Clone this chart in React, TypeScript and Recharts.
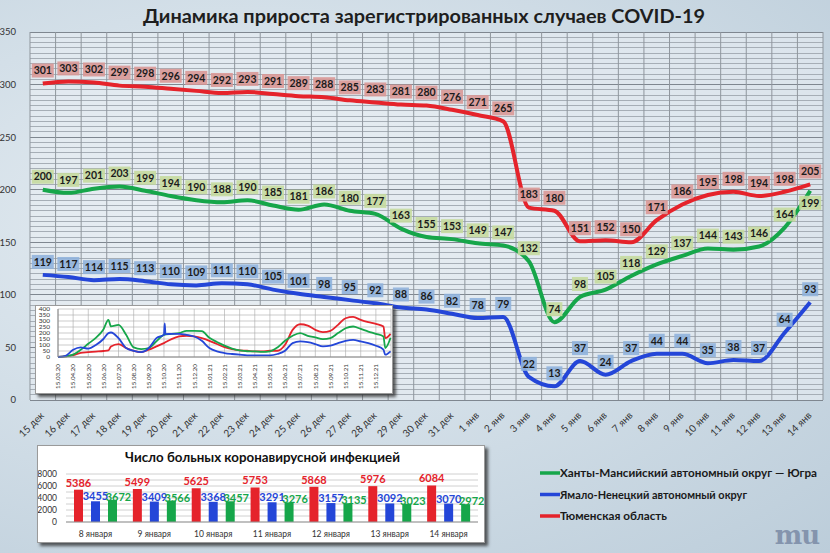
import React from "react";
import { LineChart, Line, XAxis, YAxis, CartesianGrid, ReferenceLine, BarChart, Bar, LabelList } from "recharts";

const categories = [
  "15 дек", "16 дек", "17 дек", "18 дек", "19 дек", "20 дек", "21 дек", "22 дек", "23 дек", "24 дек",
  "25 дек", "26 дек", "27 дек", "28 дек", "29 дек", "30 дек", "31 дек", "1 янв", "2 янв", "3 янв",
  "4 янв", "5 янв", "6 янв", "7 янв", "8 янв", "9 янв", "10 янв", "11 янв", "12 янв", "13 янв", "14 янв",
];
const tyumen = [301, 303, 302, 299, 298, 296, 294, 292, 293, 291, 289, 288, 285, 283, 281, 280, 276, 271, 265, 183, 180, 151, 152, 150, 171, 186, 195, 198, 194, 198, 205];
const khmao = [200, 197, 201, 203, 199, 194, 190, 188, 190, 185, 181, 186, 180, 177, 163, 155, 153, 149, 147, 132, 74, 98, 105, 118, 129, 137, 144, 143, 146, 164, 199];
const yanao = [119, 117, 114, 115, 113, 110, 109, 111, 110, 105, 101, 98, 95, 92, 88, 86, 82, 78, 79, 22, 13, 37, 24, 37, 44, 44, 35, 38, 37, 64, 93];
const yTicks = [0, 50, 100, 150, 200, 250, 300, 350];
const minorStep = 5;

// inset: long-term history (month offsets from 15.03.20)
const insetLabels = [
  "15.03.20", "15.04.20", "15.05.20", "15.06.20", "15.07.20", "15.08.20", "15.09.20", "15.10.20", "15.11.20", "15.12.20", "15.01.21",
  "15.02.21", "15.03.21", "15.04.21", "15.05.21", "15.06.21", "15.07.21", "15.08.21", "15.09.21", "15.10.21", "15.11.21", "15.12.21",
];
const insetT = [0, 0.5, 1, 1.5, 2, 2.5, 3, 3.33, 3.5, 4, 4.5, 5, 5.5, 6, 6.5, 7, 7.05, 7.1, 7.5, 8, 8.5, 9, 9.5, 10, 10.5, 11, 11.5, 12, 12.5, 13, 13.5, 14, 14.5, 15, 15.5, 16, 16.5, 17, 17.5, 18, 18.5, 19, 19.5, 20, 20.5, 21, 21.5, 21.62, 21.97];
const insetRed = [0, 5, 15, 35, 40, 45, 50, 55, 88, 108, 75, 52, 41, 61, 88, 116, null, null, 149, 171, 177, 171, 157, 135, 108, 83, 66, 55, 52, 47, 47, 52, 52, 102, 226, 273, 262, 226, 207, 218, 268, 323, 334, 309, 290, 276, 254, 157, 193];
const insetGreen = [0, 5, 20, 60, 110, 160, 230, 309, 255, 268, 185, 80, 66, 75, 130, 185, null, null, 193, 199, 218, 218, 215, 160, 125, 95, 70, 55, 48, 47, 42, 47, 80, 135, 177, 199, 177, 163, 149, 157, 199, 240, 254, 234, 212, 193, 171, 75, 160];
const insetBlue = [0, 10, 60, 80, 70, 100, 150, 199, 204, 157, 75, 52, 41, 75, 157, 185, 280, 190, 193, 193, 185, 171, 135, 75, 47, 33, 25, 19, 14, 14, 14, 14, 25, 52, 116, 130, 124, 108, 88, 94, 116, 135, 143, 130, 116, 94, 61, 19, 47];
const insetYTicks = [0, 50, 100, 150, 200, 250, 300, 350, 400];

// bottom bar panel
const barDays = ["8 января", "9 января", "10 января", "11 января", "12 января", "13 января", "14 января"];
const barRed = [5386, 5499, 5625, 5753, 5868, 5976, 6084];
const barBlue = [3455, 3409, 3368, 3291, 3157, 3092, 3070];
const barGreen = [3672, 3566, 3457, 3276, 3135, 3023, 2972];
const barTicks = [0, 1000, 2000, 3000, 4000, 5000, 6000, 7000, 8000];

const RED = "#e5232b";
const GREEN = "#16a64a";
const BLUE = "#2446d8";
const FONT = "Lato, 'Open Sans', sans-serif";

const mainData = categories.map((c, i) => ({ i, name: c, red: tyumen[i], green: khmao[i], blue: yanao[i] }));
const insetData = insetT.map((t, i) => ({ t, red: insetRed[i], green: insetGreen[i], blue: insetBlue[i] }));
const barData = barDays.map((d, i) => ({ d, red: barRed[i], blue: barBlue[i], green: barGreen[i] }));

const minorLines: number[] = [];
for (let v = 0; v <= 350; v += minorStep) if (v % 50 !== 0) minorLines.push(v);
const boundaries = Array.from({ length: categories.length + 1 }, (_, k) => k - 0.5);

const boxLabel = (fill: string, below: number[] = []) => (props: any) => {
  const x = props.x ?? props.viewBox?.x;
  const y = props.y ?? props.viewBox?.y;
  const { value, index } = props;
  if (x == null || y == null) return null;
  const isBelow = below.includes(index);
  const cy = isBelow ? y + 12 : y - 13;
  const w = String(value).length * 6 + 4;
  return (
    <g>
      <rect x={x - w / 2} y={cy - 7} width={w} height={14} fill={fill} fillOpacity={0.9} />
      <text x={x} y={cy} dy="0.36em" textAnchor="middle" fontSize={10.5} fontWeight={700} fill="#1b1b1b" fontFamily={FONT}>
        {value}
      </text>
    </g>
  );
};

const MainTick = (props: any) => {
  const { x, y, payload } = props;
  const tx = x + 2;
  const ty = y + 8;
  return (
    <text x={tx} y={ty} textAnchor="end" transform={`rotate(-45 ${tx} ${ty})`} fontSize={10} fill="#333" fontFamily={FONT}>
      {categories[payload.value]}
    </text>
  );
};

const InsetTick = (props: any) => {
  const { x, y, payload } = props;
  const tx = x + 2.3;
  const ty = y;
  return (
    <text x={tx} y={ty} textAnchor="end" transform={`rotate(-90 ${tx} ${ty})`} fontSize={6.3} fill="#333" fontFamily={FONT}>
      {insetLabels[payload.value]}
    </text>
  );
};

const barLabel = (color: string, dx: number, dy: number) => (props: any) => {
  const { x, y, width, value } = props;
  if (x == null || y == null) return null;
  return (
    <text x={x + width / 2 + dx} y={y + dy} textAnchor="middle" dy="0.36em" fontSize={11} fontWeight={700} fill={color} fontFamily={FONT}>
      {value}
    </text>
  );
};

function Inset() {
  return (
    <div style={{ position: "absolute", left: 35, top: 305, width: 358, height: 89, background: "#fff", border: "1px solid #9a9a9a", boxShadow: "3px 3px 3px rgba(40,40,40,0.75)", boxSizing: "border-box" }}>
      <LineChart width={356} height={87} data={insetData} margin={{ top: 3, right: 1, left: 0, bottom: 0 }}>
        <CartesianGrid stroke="#a8a8a8" strokeWidth={0.6} />
        <XAxis type="number" dataKey="t" domain={[0, 22]} ticks={insetLabels.map((_, i) => i)} tick={<InsetTick />} tickLine={false} axisLine={{ stroke: "#888" }} height={36} interval={0} tickMargin={1} />
        <YAxis domain={[0, 400]} ticks={insetYTicks} width={22} tickLine={false} axisLine={{ stroke: "#888" }} tick={{ fontSize: 6.5, fill: "#333", fontFamily: FONT }} tickMargin={2} interval={0} />
        <Line type="monotone" dataKey="red" stroke={RED} strokeWidth={1.8} dot={false} isAnimationActive={false} connectNulls />
        <Line type="monotone" dataKey="green" stroke={GREEN} strokeWidth={1.8} dot={false} isAnimationActive={false} connectNulls />
        <Line type="monotone" dataKey="blue" stroke={BLUE} strokeWidth={1.8} dot={false} isAnimationActive={false} connectNulls />
      </LineChart>
    </div>
  );
}

function BarPanel() {
  return (
    <div style={{ position: "absolute", left: 37, top: 445, width: 448, height: 98, background: "#fff", border: "1px solid #9a9a9a", boxShadow: "3px 3px 3px rgba(40,40,40,0.75)", boxSizing: "border-box" }}>
      <svg width={446} height={20} style={{ position: "absolute", left: 0, top: 0 }}>
        <text x={87} y={16} fontSize={12.5} fontWeight={700} fill="#111" fontFamily={FONT} textLength={275} lengthAdjust="spacingAndGlyphs">
          Число больных коронавирусной инфекцией
        </text>
      </svg>
      <BarChart width={446} height={96} data={barData} margin={{ top: 28, right: 6, left: 2, bottom: 0 }} barSize={9} barGap={8}>
        <CartesianGrid vertical={false} stroke="#c4c4c4" strokeWidth={0.8} />
        <XAxis dataKey="d" height={20} tickLine={false} axisLine={{ stroke: "#999" }} tick={{ fontSize: 8.5, fill: "#333", fontFamily: FONT }} tickMargin={3} interval={0} />
        <YAxis domain={[0, 8000]} ticks={barTicks} width={26} tickLine={false} axisLine={false} interval={0}
          tickFormatter={(v: number) => (v % 2000 === 0 ? String(v) : "")} tick={{ fontSize: 8.5, fill: "#333", fontFamily: FONT }} tickMargin={3} />
        <Bar dataKey="red" fill={RED} isAnimationActive={false}>
          <LabelList dataKey="red" content={barLabel(RED, 0, -7)} />
        </Bar>
        <Bar dataKey="blue" fill={BLUE} isAnimationActive={false}>
          <LabelList dataKey="blue" content={barLabel(BLUE, 0, -5)} />
        </Bar>
        <Bar dataKey="green" fill={GREEN} isAnimationActive={false}>
          <LabelList dataKey="green" content={barLabel(GREEN, 6, -3)} />
        </Bar>
      </BarChart>
    </div>
  );
}

function Legend() {
  const items = [
    { label: "Ханты-Мансийский автономный округ — Югра", color: GREEN, len: 257 },
    { label: "Ямало-Ненецкий автономный округ", color: BLUE, len: 187 },
    { label: "Тюменская область", color: RED, len: 107 },
  ];
  return (
    <svg width={300} height={70} style={{ position: "absolute", left: 530, top: 460 }}>
      {items.map((it, k) => (
        <g key={it.label} transform={`translate(0 ${13 + k * 21.5})`}>
          <line x1={10} x2={30} y1={0} y2={0} stroke={it.color} strokeWidth={3.5} />
          <text x={30} y={0} dy="0.36em" fontSize={12} fontWeight={700} fill="#1a1a1a" fontFamily={FONT} textLength={it.len} lengthAdjust="spacingAndGlyphs">
            {it.label}
          </text>
        </g>
      ))}
    </svg>
  );
}

export default function App() {
  return (
    <div style={{ position: "absolute", left: 0, top: 0, width: 830, height: 553, overflow: "hidden", fontFamily: FONT,
      background: "radial-gradient(ellipse at 30% 40%, #e6edf2 0%, #d3dfe8 45%, #bccdda 100%)" }}>
      <div style={{ position: "absolute", left: 0, top: 0 }}>
        <LineChart width={830} height={553} data={mainData} margin={{ top: 32, right: 7, left: 0, bottom: 113 }}>
          <CartesianGrid fill="#e9eff3" fillOpacity={0.6} horizontal={false} vertical={false} />
          {minorLines.map((v) => (
            <ReferenceLine key={"m" + v} y={v} stroke="#a6aeb6" strokeWidth={1} shapeRendering="crispEdges" />
          ))}
          {yTicks.map((v) => (
            <ReferenceLine key={"M" + v} y={v} stroke="#7f8790" strokeWidth={1} shapeRendering="crispEdges" />
          ))}
          {boundaries.map((b) => (
            <ReferenceLine key={"b" + b} x={b} stroke="#8f969d" strokeWidth={1} />
          ))}
          <XAxis type="number" dataKey="i" domain={[-0.5, categories.length - 0.5]} ticks={categories.map((_, i) => i)} interval={0}
            tick={<MainTick />} tickLine={false} axisLine={false} height={40} />
          <YAxis domain={[0, 350]} ticks={yTicks} interval={0} width={30} tickLine={false} axisLine={false}
            tick={{ fontSize: 9.5, fill: "#333", fontFamily: FONT }} tickMargin={8} />
          <Line type="monotone" dataKey="red" stroke={RED} strokeWidth={4} dot={false} isAnimationActive={false}>
            <LabelList dataKey="red" content={boxLabel("#d99896")} />
          </Line>
          <Line type="monotone" dataKey="green" stroke={GREEN} strokeWidth={4} dot={false} isAnimationActive={false}>
            <LabelList dataKey="green" content={boxLabel("#c5da9e", [categories.length - 1])} />
          </Line>
          <Line type="monotone" dataKey="blue" stroke={BLUE} strokeWidth={4} dot={false} isAnimationActive={false}>
            <LabelList dataKey="blue" content={boxLabel("#90b3dc")} />
          </Line>
        </LineChart>
      </div>
      <svg width={830} height={32} style={{ position: "absolute", left: 0, top: 0 }}>
        <text x={143} y={23} fontSize={19} fontWeight={700} fill="#1e1e1e" fontFamily={FONT} textLength={562} lengthAdjust="spacingAndGlyphs">
          Динамика прироста зарегистрированных случаев COVID-19
        </text>
      </svg>
      <Inset />
      <BarPanel />
      <Legend />
      <svg width={62} height={34} style={{ position: "absolute", left: 766, top: 517 }}>
        <text x={31} y={27} textAnchor="middle" fontSize={26} fontWeight={700} fill="#8494ad" fontFamily="'DejaVu Serif', serif" letterSpacing={-1}>
          mu
        </text>
      </svg>
    </div>
  );
}
